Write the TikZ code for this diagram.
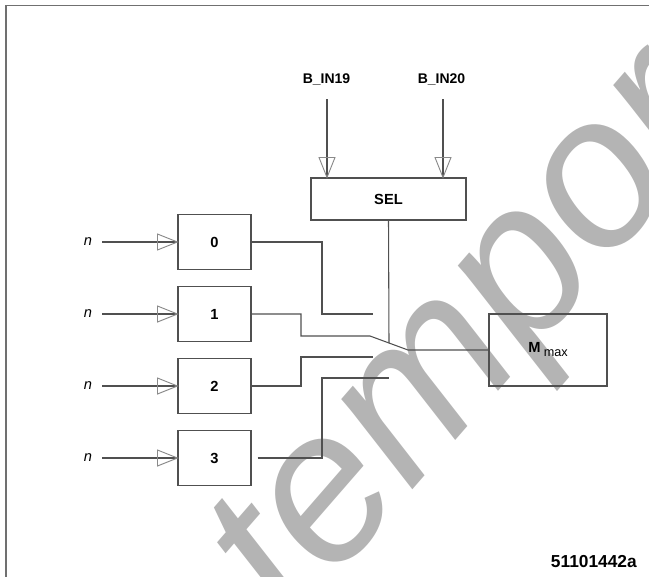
\documentclass[tikz,border=0pt]{standalone}
\usepackage{fontspec}
\setmainfont{Liberation Sans}
\usetikzlibrary{calc}
\definecolor{linec}{HTML}{505050}
\definecolor{tric}{HTML}{8A8A8A}
\definecolor{framec}{HTML}{707070}
\definecolor{wmc}{HTML}{B4B4B4}
\begin{document}
\begin{tikzpicture}[x=0.75pt,y=-0.75pt,
  wire/.style={draw=linec, line width=0.8pt},
  tri/.style={draw=tric, line width=0.7pt},
  blk/.style={draw=linec, line width=0.8pt, minimum width=54.75pt, minimum height=41.25pt, inner sep=0pt, font=\fontsize{11}{13}\selectfont\bfseries},
  lbl/.style={inner sep=0pt, font=\fontsize{10.5}{12}\selectfont\bfseries},
  nlbl/.style={inner sep=0pt, font=\fontsize{11}{13}\selectfont\itshape},
  wm/.style={text=wmc, inner sep=0pt, font=\fontsize{160.3}{162}\selectfont\itshape}
]
\useasboundingbox (0,0) rectangle (649,576);
% watermark
\begin{scope}
\clip (0,0) rectangle (649,576);
\node[wm, rotate=49, anchor=base west] (wmk) at (293.1,627.4) {temporary};
\end{scope}
% frame
\draw[framec, line width=1.4pt] (6,580) -- (6,5.5) -- (652,5.5);

% blocks
\node[blk] (b0) at (214.5,242) {0};
\node[blk] (b1) at (214.5,314) {1};
\node[blk] (b2) at (214.5,386) {2};
\node[blk] (b3) at (214.5,458) {3};
\node[blk, minimum width=116.25pt, minimum height=31.5pt] (sel) at (388.5,199) {SEL};
\node[blk, minimum width=88.5pt, minimum height=54pt] (mx) at (548,350) {M\hspace{2.5pt}\raisebox{-3pt}{\fontsize{9.5}{11}\selectfont\mdseries max}};

% input labels
\node[nlbl] (n0) at (88,242) {n};
\node[nlbl] (n1) at (88,314) {n};
\node[nlbl] (n2) at (88,386) {n};
\node[nlbl] (n3) at (88,458) {n};
\foreach \i in {0,1,2,3}{
  \draw[wire, shorten <=7.5pt] (n\i.east) -- (b\i.west);
  \draw[tri] (b\i.west) -- ++(-20,-8) -- ++(0,16) -- cycle;
}

% SEL inputs
\node[lbl] (l19) at (326.5,79.5) {B\_IN19};
\node[lbl] (l20) at (441.5,79.5) {B\_IN20};
\coordinate (s19) at (327,99);
\coordinate (s20) at (443,99);
\coordinate (t19) at (sel.north -| s19);
\coordinate (t20) at (sel.north -| s20);
\draw[wire] (s19) -- (t19);
\draw[wire] (s20) -- (t20);
\draw[tri] (t19) -- ++(-8,-20) -- ++(16,0) -- cycle;
\draw[tri] (t20) -- ++(-8,-20) -- ++(16,0) -- cycle;

% switch contacts
\coordinate (c0) at (373,314);
\coordinate (c1) at (370,336);
\coordinate (pv) at (408,350);
\coordinate (c2) at (373,357);
\coordinate (c3) at (389,378);
\coordinate (g3) at ($(b3.east)+(6,0)$);

\draw[wire] (b0.east) -| (322,314) -- (c0);
\draw[wire] (b1.east) -| (301,336) -- (c1) -- (pv) -- (mx.west);
\draw[wire] (b2.east) -| (301,357) -- (c2);
\draw[wire] (g3) -| (322,378) -- (c3);
\draw[wire] (sel.south) -- ($(c1)!0.5!(pv)$);

% drawing number
\node[anchor=base east, inner sep=0pt, font=\fontsize{13}{15}\selectfont\bfseries] (code) at (637,567) {51101442a};
\end{tikzpicture}
\end{document}
